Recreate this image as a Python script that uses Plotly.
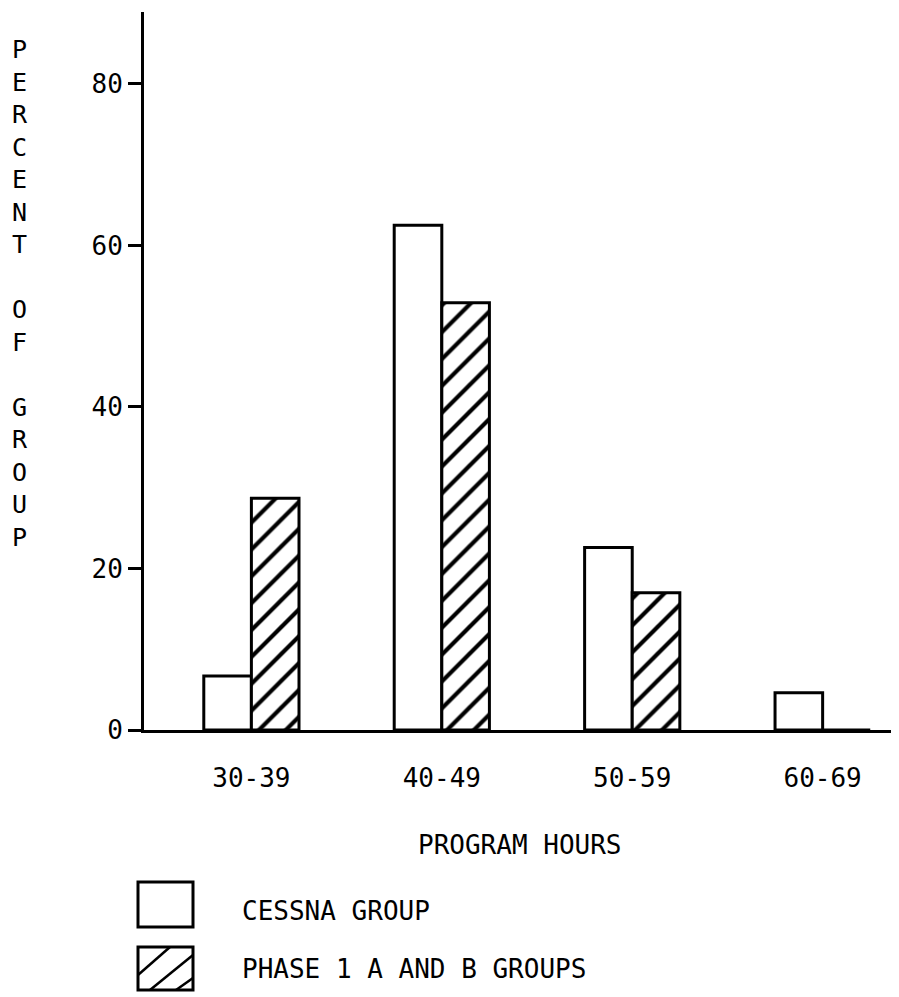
import plotly.graph_objects as go

categories = ["30-39", "40-49", "50-59", "60-69"]
cessna = [6.7, 62.5, 22.6, 4.6]
phase = [28.7, 52.9, 17.0, 0]
y_ticks = [0, 20, 40, 60, 80]
series_names = ["CESSNA GROUP", "PHASE 1 A AND B GROUPS"]
x_title = "PROGRAM HOURS"
y_title = "PERCENT OF GROUP"

FONT = "DejaVu Sans Mono"
OFF = 8  # browser body margin offset
W, H = 899 - OFF, 997 - OFF
L, R, T, B = 144 - OFF, 0, 12 - OFF, 267
PW, PH = W - L - R, H - T - B


def px(x):
    # x in screen pixels -> paper coordinates
    return (x - OFF - L) / PW


def py(y):
    return (H - B - (y - OFF)) / PH


fig = go.Figure()
fig.add_trace(go.Bar(
    x=categories, y=cessna, name=series_names[0],
    marker=dict(color="white", line=dict(color="black", width=3)),
    showlegend=False,
))
fig.add_trace(go.Bar(
    x=categories, y=phase, name=series_names[1],
    marker=dict(color="white", line=dict(color="black", width=3),
                pattern=dict(shape="/", fgcolor="black", bgcolor="white",
                             size=19, solidity=0.22, fillmode="replace",
                             fgopacity=1)),
    showlegend=False,
))

fig.update_layout(
    width=W, height=H,
    margin=dict(l=L, r=R, t=T, b=B),
    paper_bgcolor="white", plot_bgcolor="white",
    barmode="group", bargap=0.5, bargroupgap=0,
    font=dict(family=FONT, size=26, color="black"),
    showlegend=False,
)
fig.update_xaxes(
    type="category", range=[-0.564, 3.401],
    showline=True, linecolor="black", linewidth=3,
    showgrid=False, zeroline=False, ticks="",
    ticklabelstandoff=23,
    tickfont=dict(family=FONT, size=26, color="black"),
)
fig.update_yaxes(
    range=[0, 88.9], tickvals=y_ticks,
    showline=True, linecolor="black", linewidth=3,
    showgrid=False, zeroline=False,
    ticks="outside", ticklen=13, tickwidth=3, tickcolor="black",
    tickfont=dict(family=FONT, size=26, color="black"),
)

# vertical y-axis title (stacked letters)
lines = []
for word in y_title.split(" "):
    lines.extend(list(word))
    lines.append(" ")
lines = lines[:-1]
fig.add_annotation(
    text="<br>".join(lines), xref="paper", yref="paper",
    x=px(20), y=py(294), xanchor="center", yanchor="middle",
    showarrow=False, align="center",
    font=dict(family=FONT, size=25, color="black"),
)

# x-axis title
fig.add_annotation(
    text=x_title, xref="paper", yref="paper",
    x=px(520), y=py(845), xanchor="center", yanchor="middle",
    showarrow=False, font=dict(family=FONT, size=26, color="black"),
)

# legend boxes
bx0, bx1 = 138, 193
boxes = [(882, 927), (947, 990)]
for (y0, y1) in boxes:
    fig.add_shape(type="rect", xref="paper", yref="paper",
                  x0=px(bx0), x1=px(bx1), y0=py(y0), y1=py(y1),
                  line=dict(color="black", width=3), fillcolor="white")
# hatch lines inside the second legend box
y0, y1 = boxes[1]
hatch = [((bx0, 975), (170, y0)), ((150, y1), (bx1, 955)), ((176, y1), (bx1, 978))]
for (a, b) in hatch:
    fig.add_shape(type="line", xref="paper", yref="paper",
                  x0=px(a[0]), y0=py(a[1]), x1=px(b[0]), y1=py(b[1]),
                  line=dict(color="black", width=2.5))

# legend labels
for name, yc in zip(series_names, [911, 969]):
    fig.add_annotation(
        text=name, xref="paper", yref="paper",
        x=px(240), y=py(yc), xanchor="left", yanchor="middle",
        showarrow=False, font=dict(family=FONT, size=26, color="black"),
    )

fig.write_html("out.html")
